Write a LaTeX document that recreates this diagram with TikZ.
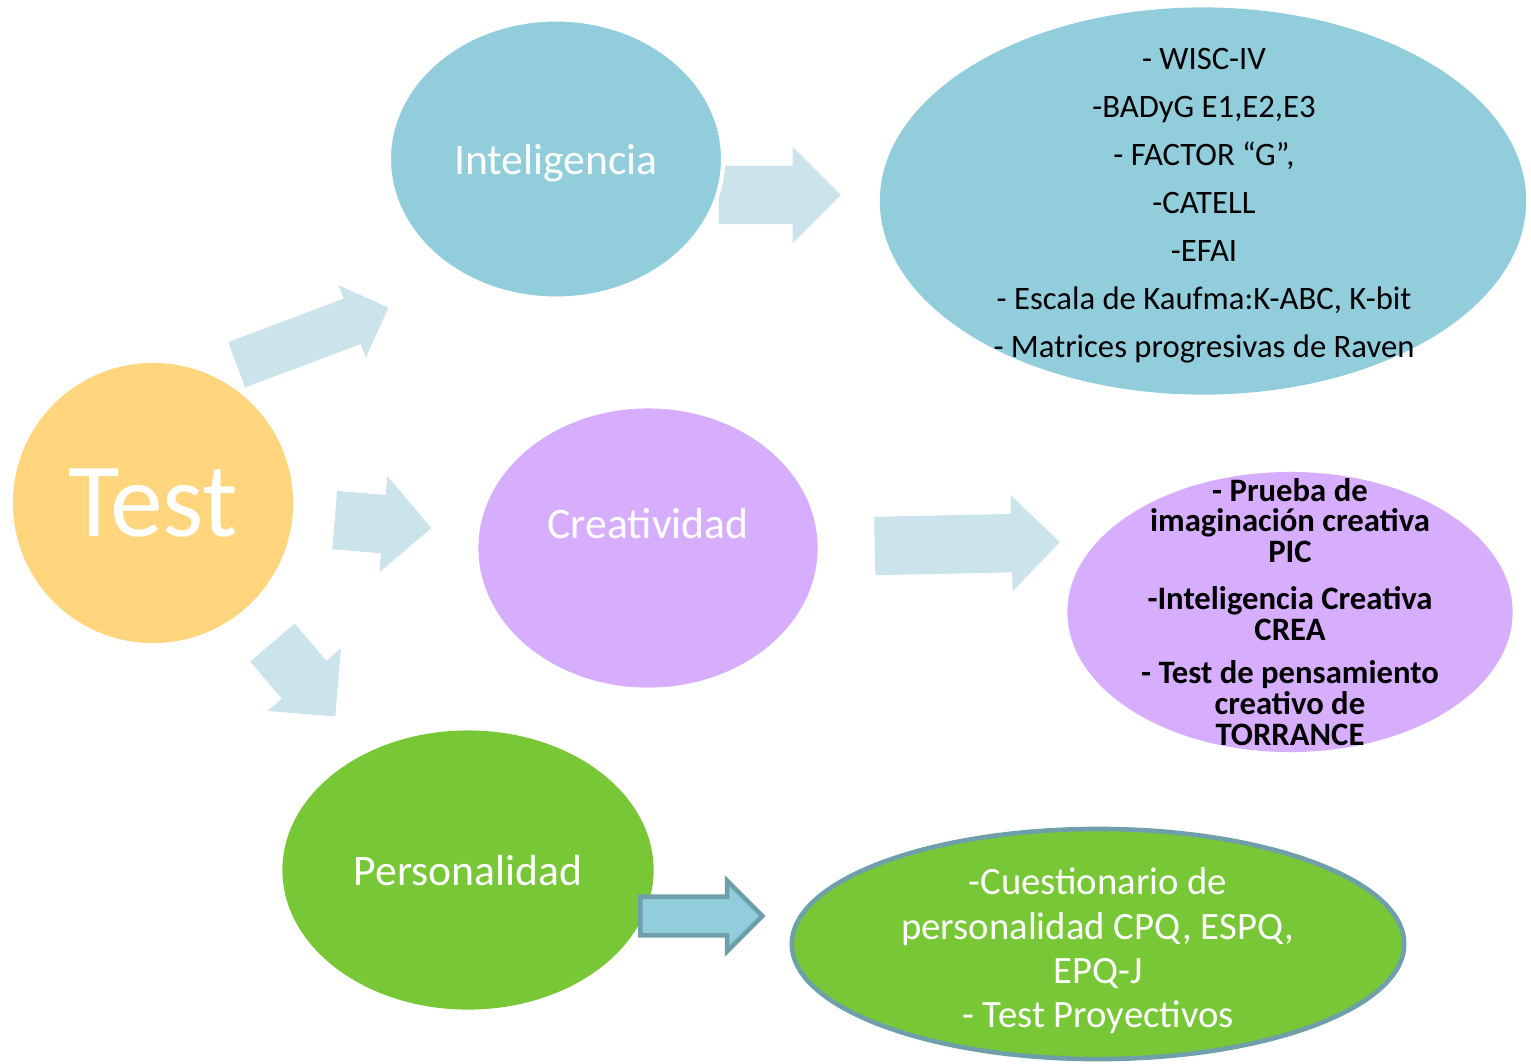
\documentclass[tikz,border=0pt]{standalone}
\usepackage{fontspec}
\setmainfont{Carlito}
\usetikzlibrary{shapes}
\usetikzlibrary{shapes.arrows}

\definecolor{amarillo}{HTML}{FFD57E}
\definecolor{azul}{HTML}{92CDDC}
\definecolor{lila}{HTML}{D7AEFD}
\definecolor{verde}{HTML}{77C736}
\definecolor{azulclaro}{HTML}{CBE3EA}
\definecolor{borde}{HTML}{6F9FAA}

\begin{document}
\begin{tikzpicture}[x=0.01cm,y=-0.01cm,
  oval/.style 2 args={ellipse, inner sep=0pt, minimum width=#1, minimum height=#2},
  flecha/.style={single arrow, single arrow tip angle=90, single arrow head indent=0pt,
    inner xsep=0pt, inner ysep=0.285cm, anchor=tail, fill=azulclaro, single arrow head extend=0.19cm},
  titulo/.style={text=white, text depth=0pt, font=\fontsize{12.4}{14}\selectfont},
  lista/.style={align=center, inner sep=0pt}]

\useasboundingbox (0,0) rectangle (1531,1063);

\node[flecha, rotate=20.6, minimum height=1.62cm, inner ysep=0.235cm, single arrow head extend=0.145cm] (f1) at (236,365) {};
\node[flecha, rotate=-4.7, minimum height=0.97cm] (f2) at (334,520) {};
\node[flecha, rotate=-49.6, minimum height=0.97cm] (f3) at (272,642) {};
\node[flecha, minimum height=1.22cm] (f4) at (718,195) {};
\node[flecha, rotate=1.2, minimum height=1.85cm] (f5) at (874,546) {};

\node[circle, fill=amarillo, inner sep=0pt, minimum size=2.8cm, text=white, font=\fontsize{30}{32}\selectfont] (test) at (153,503) {Test};

\node[oval={3.34cm}{2.79cm}, fill=azul, draw=white, line width=1.2pt, titulo] (intel) at (556,159) {Inteligencia};
\node[oval={3.39cm}{2.79cm}, fill=lila] (crea) at (648,548) {};
\node[titulo] (crealbl) at (648,523) {Creatividad};
\node[oval={3.71cm}{2.79cm}, fill=verde, titulo] (pers) at (468,870) {Personalidad};

\node[flecha, fill=azul, draw=borde, line width=1.3pt, minimum height=1.22cm, inner ysep=0.17cm, single arrow head extend=0.16cm] (f6) at (638,916) {};

\node[oval={6.46cm}{3.87cm}, fill=azul] (intlista) at (1203,201) {};
\node[lista, font=\fontsize{9.3}{13.66}\selectfont] (intlistatxt) at (1204,206) {- WISC-IV\\-BADyG E1,E2,E3\\- FACTOR “G”,\\-CATELL\\-EFAI\\- Escala de Kaufma:K-ABC, K-bit\\- Matrices progresivas de Raven};

\node[oval={4.45cm}{2.80cm}, fill=lila] (crealista) at (1290,612) {};
\node[lista, font=\fontsize{9.3}{8.8}\selectfont\bfseries] (crealistatxt) at (crealista) {- Prueba de\\imaginación creativa\\PIC\\[4.5pt]-Inteligencia Creativa\\CREA\\[3.5pt]- Test de pensamiento\\creativo de\\TORRANCE};

\node[oval={6.12cm}{2.30cm}, fill=verde, draw=borde, line width=1.3pt] (perslista) at (1098,944) {};
\node[lista, text=white, font=\fontsize{11}{12.6}\selectfont] (perslistatxt) at (1098,951) {-Cuestionario de\\personalidad CPQ, ESPQ,\\EPQ-J\\- Test Proyectivos};
\end{tikzpicture}
\end{document}
